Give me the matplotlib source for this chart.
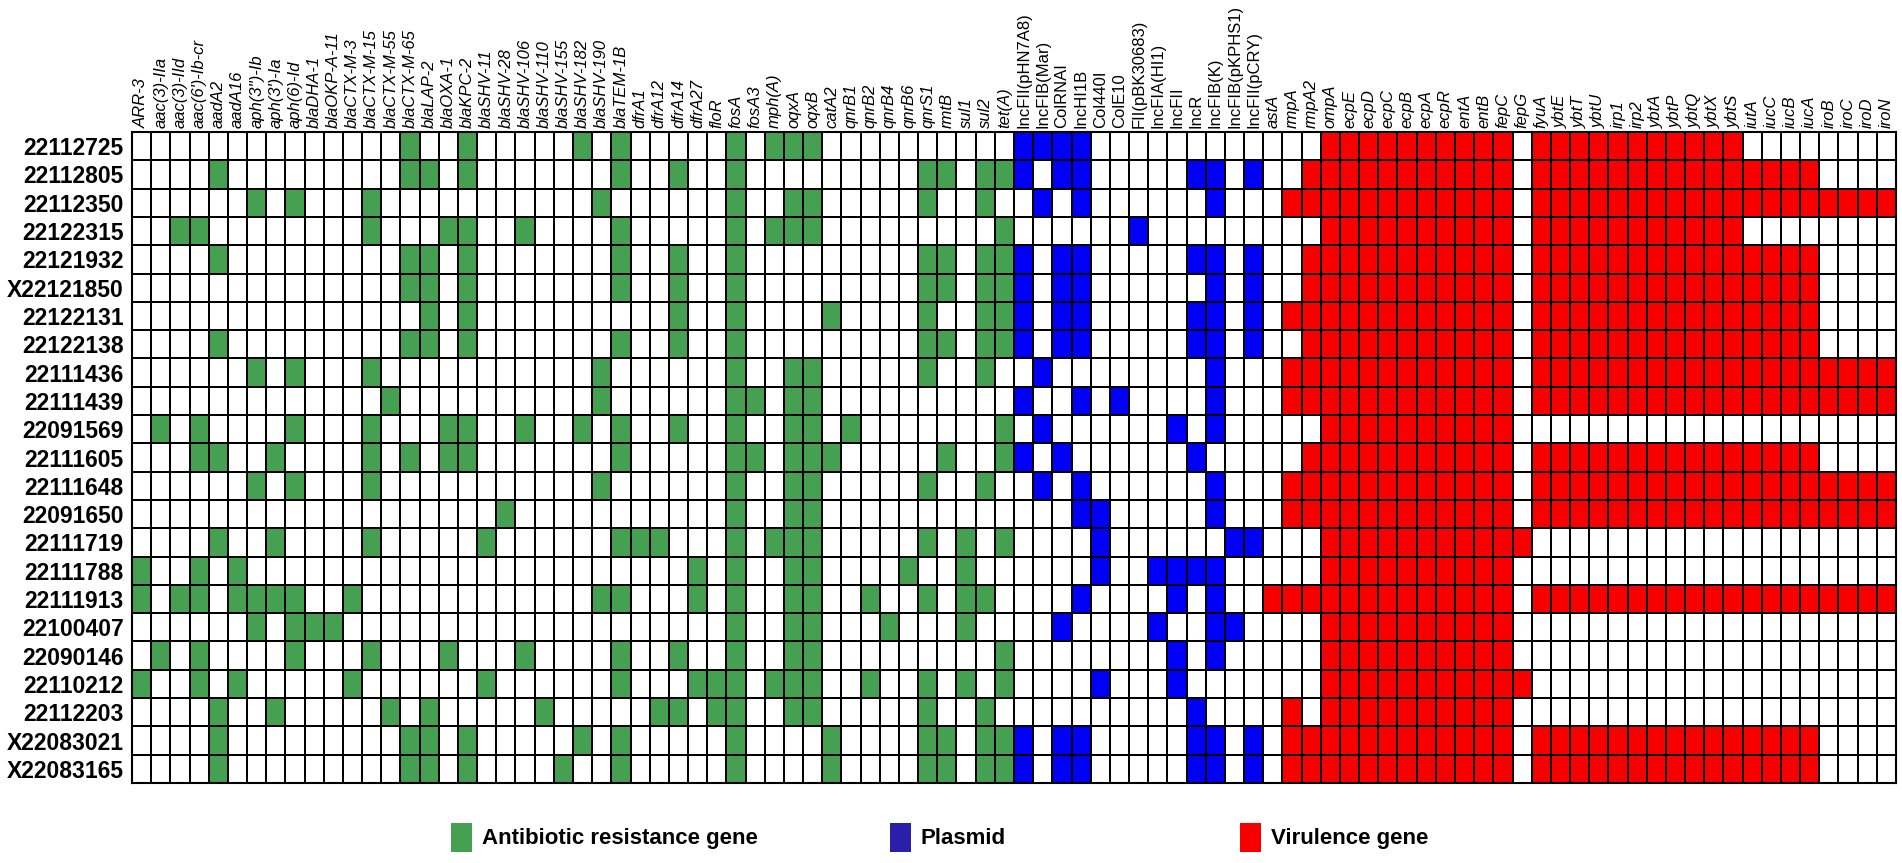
import numpy as np
import matplotlib
matplotlib.use("Agg")
import matplotlib.pyplot as plt
from matplotlib.colors import ListedColormap, BoundaryNorm
from matplotlib.patches import Rectangle

plt.rcParams['font.family'] = ['Liberation Sans', 'DejaVu Sans']

# %% Labels
samples = ['22112725', '22112805', '22112350', '22122315', '22121932', 'X22121850',
           '22122131', '22122138', '22111436', '22111439', '22091569', '22111605',
           '22111648', '22091650', '22111719', '22111788', '22111913', '22100407',
           '22090146', '22110212', '22112203', 'X22083021', 'X22083165']

amr_genes = ['ARR-3', 'aac(3)-IIa', 'aac(3)-IId', "aac(6')-Ib-cr", 'aadA2', 'aadA16',
             "aph(3'')-Ib", "aph(3')-Ia", 'aph(6)-Id', 'blaDHA-1', 'blaOKP-A-11',
             'blaCTX-M-3', 'blaCTX-M-15', 'blaCTX-M-55', 'blaCTX-M-65', 'blaLAP-2',
             'blaOXA-1', 'blaKPC-2', 'blaSHV-11', 'blaSHV-28', 'blaSHV-106', 'blaSHV-110',
             'blaSHV-155', 'blaSHV-182', 'blaSHV-190', 'blaTEM-1B', 'dfrA1', 'dfrA12',
             'dfrA14', 'dfrA27', 'floR', 'fosA', 'fosA3', 'mph(A)', 'oqxA', 'oqxB',
             'catA2', 'qnrB1', 'qnrB2', 'qnrB4', 'qnrB6', 'qnrS1', 'rmtB', 'sul1',
             'sul2', 'tet(A)']

plasmids = ['IncFII(pHN7A8)', 'IncFIB(Mar)', 'ColRNAI', 'IncHI1B', 'Col440I', 'ColE10',
            'FII(pBK30683)', 'IncFIA(HI1)', 'IncFII', 'IncR', 'IncFIB(K)',
            'IncFIB(pKPHS1)', 'IncFII(pCRY)']

vir_genes = ['astA', 'rmpA', 'rmpA2', 'ompA', 'ecpE', 'ecpD', 'ecpC', 'ecpB', 'ecpA',
             'ecpR', 'entA', 'entB', 'fepC', 'fepG', 'fyuA', 'ybtE', 'ybtT', 'ybtU',
             'irp1', 'irp2', 'ybtA', 'ybtP', 'ybtQ', 'ybtX', 'ybtS', 'iutA', 'iucC',
             'iucB', 'iucA', 'iroB', 'iroC', 'iroD', 'iroN']

# %% Presence (1) / absence (0), one string per sample, same order as the labels
amr = [
    "00000 00000 00001 00100 00010 10000 01011 10000 00000 0",
    "00001 00000 00001 10100 00000 10010 01000 00000 01101 1",
    "00000 01010 00100 00000 00001 00000 01001 10000 01001 0",
    "00110 00000 00100 01100 10000 10000 01011 10000 00000 1",
    "00001 00000 00001 10100 00000 10010 01000 00000 01101 1",
    "00000 00000 00001 10100 00000 10010 01000 00000 01101 1",
    "00000 00000 00000 10100 00000 00010 01000 01000 01001 1",
    "00001 00000 00001 10100 00000 10010 01000 00000 01101 1",
    "00000 01010 00100 00000 00001 00000 01001 10000 01001 0",
    "00000 00000 00010 00000 00001 00000 01101 10000 00000 0",
    "01010 00010 00100 01100 10010 10010 01001 10100 00000 1",
    "00011 00100 00101 01100 00000 10000 01101 11000 00100 1",
    "00000 01010 00100 00000 00001 00000 01001 10000 01001 0",
    "00000 00000 00000 00001 00000 00000 01001 10000 00000 0",
    "00001 00100 00100 00010 00000 11100 01011 10000 01010 1",
    "10010 10000 00000 00000 00000 00001 01001 10000 10010 0",
    "10110 11110 01000 00000 00001 10001 01001 10010 01011 0",
    "00000 01011 10000 00000 00000 00000 01001 10001 00010 0",
    "01010 00010 00100 01000 10000 10010 01001 10000 00000 1",
    "10010 10000 01000 00010 00000 10001 11011 10010 01010 1",
    "00001 00100 00010 10000 01000 00110 11001 10000 01001 0",
    "00001 00000 00001 10100 00010 10000 01000 01000 01101 1",
    "00001 00000 00001 10100 00100 10000 01000 01000 01101 1",
]

plasmid = [
    "11110 00000 000",
    "10110 00001 101",
    "01010 00000 100",
    "00000 01000 000",
    "10110 00001 101",
    "10110 00000 101",
    "10110 00001 101",
    "10110 00001 101",
    "01000 00000 100",
    "10010 10000 100",
    "01000 00010 100",
    "10100 00001 000",
    "01010 00000 100",
    "00011 00000 100",
    "00001 00000 011",
    "00001 00111 100",
    "00010 00010 100",
    "00100 00100 110",
    "00000 00010 100",
    "00001 00010 000",
    "00000 00001 000",
    "10110 00001 101",
    "10110 00001 101",
]

virulence = [
    "00011 11111 11101 11111 11111 00000 000",
    "00111 11111 11101 11111 11111 11110 000",
    "01111 11111 11101 11111 11111 11111 111",
    "00011 11111 11101 11111 11111 00000 000",
    "00111 11111 11101 11111 11111 11110 000",
    "00111 11111 11101 11111 11111 11110 000",
    "01111 11111 11101 11111 11111 11110 000",
    "00111 11111 11101 11111 11111 11110 000",
    "01111 11111 11101 11111 11111 11111 111",
    "01111 11111 11101 11111 11111 11111 111",
    "00011 11111 11100 00000 00000 00000 000",
    "00111 11111 11101 11111 11111 11110 000",
    "01111 11111 11101 11111 11111 11111 111",
    "01111 11111 11101 11111 11111 11111 111",
    "00011 11111 11110 00000 00000 00000 000",
    "00011 11111 11100 00000 00000 00000 000",
    "11111 11111 11101 11111 11111 11111 111",
    "00011 11111 11100 00000 00000 00000 000",
    "00011 11111 11100 00000 00000 00000 000",
    "00011 11111 11110 00000 00000 00000 000",
    "01011 11111 11100 00000 00000 00000 000",
    "01111 11111 11101 11111 11111 11110 000",
    "01111 11111 11101 11111 11111 11110 000",
]

green = '#45a052'
blue = '#0000f8'
red = '#f80000'
plasmid_key = '#2a1fa8'


# %% Build one category matrix: 0 empty, 1 AMR, 2 plasmid, 3 virulence
def to_matrix(rows):
    return np.array([[int(c) for c in r.replace(' ', '')] for r in rows])


amr_m = to_matrix(amr)
pl_m = to_matrix(plasmid)
vir_m = to_matrix(virulence)
grid = np.hstack([amr_m * 1, pl_m * 2, vir_m * 3])
col_labels = amr_genes + plasmids + vir_genes
nrow, ncol = grid.shape

cmap = ListedColormap(['white', green, blue, red])
norm = BoundaryNorm([-0.5, 0.5, 1.5, 2.5, 3.5], cmap.N)

# %% Plot
fig = plt.figure(figsize=(19.02, 8.63), dpi=100)
ax = fig.add_axes([132 / 1902, 1 - 783 / 863, 1764 / 1902, 651 / 863])
ax.pcolormesh(grid, cmap=cmap, norm=norm, edgecolors='black', linewidth=1.2)
ax.set_xlim(0, ncol)
ax.set_ylim(nrow, 0)

ax.xaxis.tick_top()
ax.set_xticks(np.arange(ncol) + 0.5)
ax.set_xticklabels(col_labels, rotation=90, fontsize=12)
ax.tick_params(axis='x', length=0, pad=3)
for i, lab in enumerate(ax.get_xticklabels()):
    if i < len(amr_genes) or i >= len(amr_genes) + len(plasmids):
        lab.set_style('italic')

ax.set_yticks(np.arange(nrow) + 0.5)
ax.set_yticklabels(samples, fontsize=16.5, fontweight='bold')
ax.tick_params(axis='y', length=0, pad=6)
for s in ax.spines.values():
    s.set_linewidth(1.5)

# %% Legend along the bottom
legend_items = [('Antibiotic resistance gene', green, 451),
                ('Plasmid', plasmid_key, 890),
                ('Virulence gene', red, 1240)]
for text, color, x in legend_items:
    fig.add_artist(Rectangle((x / 1902, 1 - 852 / 863), 21 / 1902, 29 / 863,
                             transform=fig.transFigure, facecolor=color,
                             edgecolor='none'))
    fig.text((x + 31) / 1902, 1 - 838 / 863, text, fontsize=16,
             fontweight='bold', va='center', ha='left')

fig.savefig('out.png', dpi=100)
